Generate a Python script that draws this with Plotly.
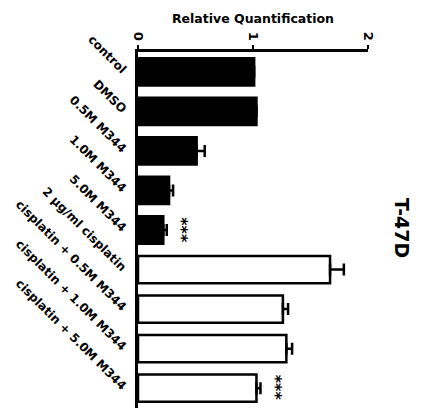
import plotly.graph_objects as go

categories = ["control", "DMSO", "0.5M M344", "1.0M M344", "5.0M M344",
              "2 \u00b5g/ml cisplatin", "cisplatin + 0.5M M344",
              "cisplatin + 1.0M M344", "cisplatin + 5.0M M344"]
values = [1.01, 1.03, 0.51, 0.27, 0.22, 1.67, 1.26, 1.29, 1.03]
errors = [0.0, 0.0, 0.07, 0.035, 0.03, 0.12, 0.045, 0.05, 0.035]
fill_colors = ["black"] * 5 + ["white"] * 4
significance = ["", "", "", "", "***", "", "", "", "***"]
x_ticks = [0, 1, 2]

FONT = "DejaVu Sans"

fig = go.Figure()
fig.add_trace(go.Bar(
    y=categories, x=values, orientation="h",
    marker=dict(color=fill_colors, line=dict(color="black", width=2.5)),
    error_x=dict(type="data", array=errors, arrayminus=[0] * len(errors),
                 symmetric=False, color="black", thickness=2.5, width=6),
    showlegend=False,
))

for cat, v, e, s in zip(categories, values, errors, significance):
    if s:
        fig.add_annotation(x=v + e, y=cat, text=s, showarrow=False,
                           textangle=90, xshift=15, xanchor="center",
                           font=dict(family=FONT, size=16, color="black", weight="bold"))

fig.add_annotation(x=(402 - 138) / (368 - 138), y=1 - (228 - 52) / (408 - 52),
                   xref="paper", yref="paper", text="T-47D",
                   showarrow=False, textangle=90, xanchor="center", yanchor="middle",
                   font=dict(family=FONT, size=19, color="black", weight="bold"))

fig.update_layout(
    width=426, height=408,
    margin=dict(l=138, r=58, t=52, b=0),
    paper_bgcolor="white", plot_bgcolor="white",
    bargap=0.31,
    font=dict(family=FONT, color="black"),
    xaxis=dict(side="top", range=[0, 2], tickvals=x_ticks,
               ticktext=[str(t) for t in x_ticks], tickangle=90,
               showgrid=False, zeroline=False, showline=True,
               linecolor="black", linewidth=2.5, ticks="outside",
               ticklen=4, tickwidth=2, tickcolor="black",
               tickfont=dict(family=FONT, size=13, color="black", weight="bold"),
               title=dict(text="Relative Quantification", standoff=6,
                          font=dict(family=FONT, size=12.5, color="black", weight="bold"))),
    yaxis=dict(autorange="reversed", showgrid=False, zeroline=False,
               showline=True, linecolor="black", linewidth=3, ticks="",
               tickangle=45, ticklabelstandoff=7,
               tickfont=dict(family=FONT, size=12, color="black", weight="bold")),
)

fig.write_html("out.html")
